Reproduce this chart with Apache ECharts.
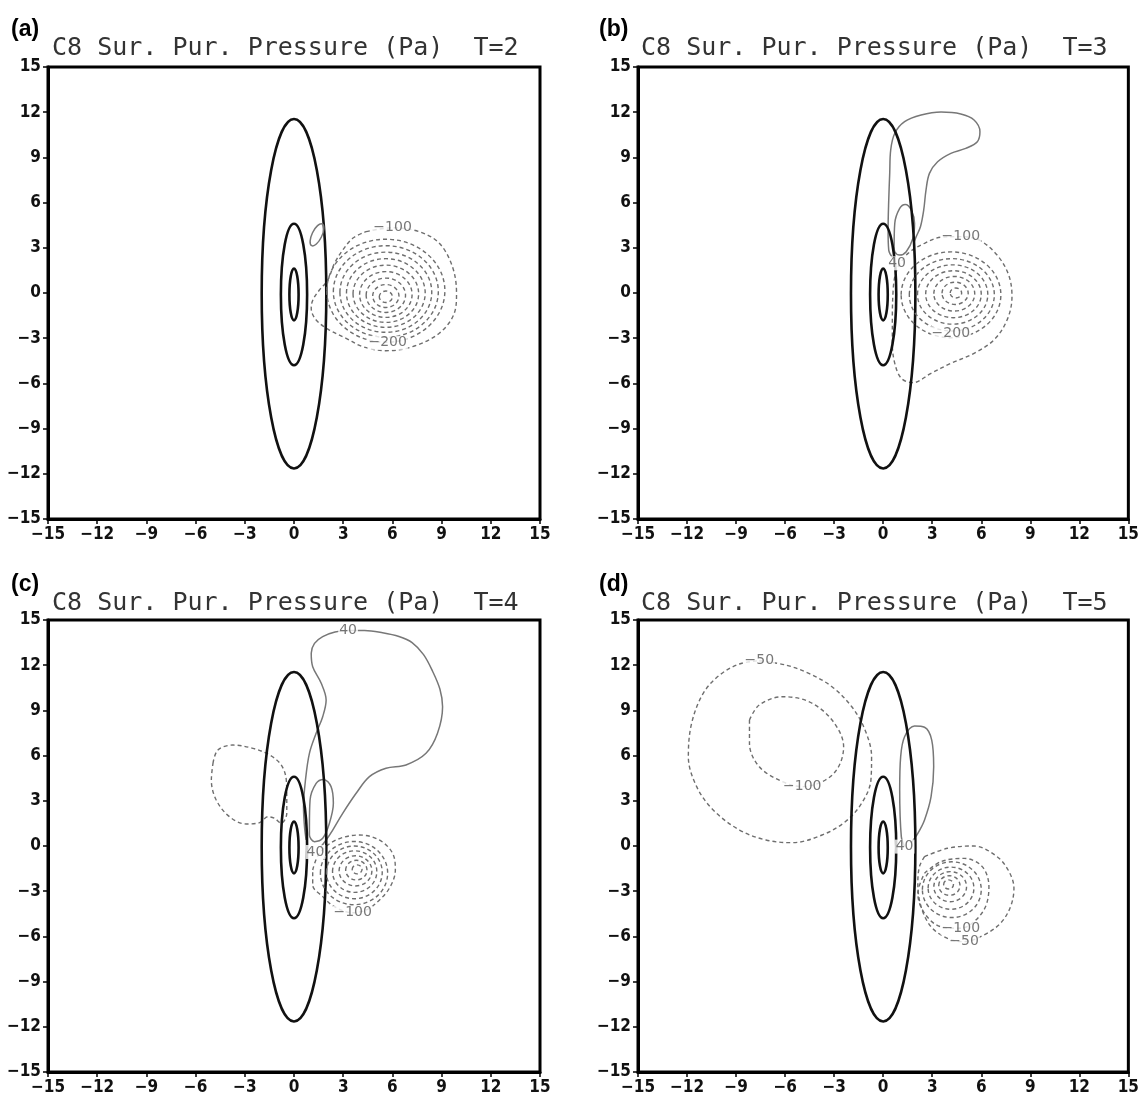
<!DOCTYPE html>
<html><head><meta charset="utf-8">
<script src="https://cdn.jsdelivr.net/npm/echarts@6/dist/echarts.min.js"></script>
<style>html,body{margin:0;padding:0;background:#fff}#c{width:1142px;height:1101px}</style>
</head><body><div id="c"></div>
<script>
const TICKS = [-15,-12,-9,-6,-3,0,3,6,9,12,15];
const TAGS = ['(a)','(b)','(c)','(d)'];
const TITLES = ['C8 Sur. Pur. Pressure (Pa)  T=2','C8 Sur. Pur. Pressure (Pa)  T=3','C8 Sur. Pur. Pressure (Pa)  T=4','C8 Sur. Pur. Pressure (Pa)  T=5'];

// thick black vortex contours: [cx, cy, rx, ry]
const vortexEllipses = [[0,-0.05,1.97,11.6],[0,-0.1,0.8,4.7],[0,-0.1,0.28,1.72]];

// dashed concentric negative rings: [cx, cy, rx, ry]
const ringsA = [[5.6,-0.25,0.4,0.38],[5.6,-0.2,0.8,0.76],[5.6,-0.15,1.2,1.14],[5.6,-0.1,1.6,1.52],[5.6,-0.05,2.0,1.9],[5.6,0,2.4,2.28],[5.6,0.05,2.8,2.66],[5.6,0.1,3.2,3.04],[5.6,0.15,3.6,3.42]];
const ringsB = [[4.45,0,0.35,0.33],[4.4,-0.02,0.8,0.74],[4.35,-0.05,1.25,1.15],[4.3,-0.08,1.7,1.56],[4.25,-0.1,2.15,1.97],[4.2,-0.12,2.6,2.4],[4.15,-0.12,3.05,2.85]];
const ringsC = [[3.85,-1.55,0.3,0.3],[3.8,-1.6,0.65,0.65],[3.75,-1.65,1.0,1.0],[3.7,-1.7,1.35,1.38],[3.68,-1.75,1.7,1.75],[3.66,-1.8,2.05,2.1]];
const ringsD = [[4.0,-2.55,0.3,0.3],[4.05,-2.62,0.65,0.65],[4.1,-2.7,1.0,1.0],[4.15,-2.8,1.4,1.4],[4.2,-2.9,1.8,1.85]];

// small tilted positive loop in (a): [cx, cy, rx, ry, tilt in radians]
const A_posLoop = [[1.4,3.86,0.3,0.8,-0.45]];

// irregular contours
const A_neg = [[4.39,4.07],[6.01,4.33],[7.64,4.07],[8.86,3.30],[9.66,1.75],[9.91,-0.02],[9.77,-1.35],[8.86,-2.67],[7.23,-3.56],[5.61,-3.83],[4.19,-3.56],[3.18,-3.01],[2.16,-2.46],[1.35,-1.79],[1.05,-1.02],[1.15,-0.46],[1.55,0.20],[2.06,0.86],[2.47,1.97],[2.97,2.85],[3.58,3.63],[4.39,4.07]];
const B_pos1 = [[0.61,2.30],[0.34,2.85],[0.30,4.18],[0.34,6.17],[0.40,7.94],[0.46,9.49],[0.71,10.6],[1.31,11.37],[2.32,11.81],[3.54,12.01],[4.75,11.88],[5.56,11.48],[5.92,10.70],[5.76,10.04],[5.05,9.60],[4.14,9.27],[3.33,8.71],[2.83,7.94],[2.62,6.83],[2.48,5.51],[2.28,4.40],[2.02,3.74],[1.9,3.4]];
const B_pos2 = [[0.67,3.07],[0.71,4.63],[1.01,5.62],[1.35,5.88],[1.72,5.51],[1.92,4.63],[1.82,3.63],[1.41,2.74],[1.01,2.52],[0.71,2.74],[0.67,3.07]];
const B_neg = [[0.91,1.75],[1.52,2.63],[2.53,3.30],[3.53,3.70],[4.75,3.74],[5.86,3.52],[6.97,2.52],[7.68,1.19],[7.88,-0.24],[7.58,-1.79],[6.77,-3.12],[5.56,-4.00],[4.14,-4.67],[2.93,-5.33],[1.82,-5.95],[1.11,-5.66],[0.71,-4.67],[0.56,-3.34],[0.56,-1.57],[0.61,0.20],[0.71,1.08],[0.91,1.75]];
const C_pos1 = [[0.74,0.40],[0.64,1.28],[0.58,2.61],[0.70,4.38],[0.94,6.15],[1.35,7.48],[1.75,8.58],[1.96,9.69],[1.66,10.8],[1.14,11.9],[1.05,12.79],[1.25,13.45],[1.75,13.9],[2.5,14.2],[3.3,14.3],[4.3,14.3],[5.4,14.15],[6.4,13.9],[7.2,13.5],[7.9,12.7],[8.45,11.6],[8.9,10.4],[9.06,9.24],[8.75,7.48],[8.05,6.15],[6.83,5.38],[5.61,5.16],[4.60,4.60],[3.79,3.50],[2.97,2.17],[2.36,1.06],[1.96,0.40],[1.6,-0.1]];
const C_pos2 = [[0.94,1.28],[0.98,3.05],[1.35,4.16],[1.80,4.42],[2.26,3.94],[2.40,2.83],[2.16,1.51],[1.75,0.51],[1.25,0.29],[0.94,0.73],[0.94,1.28]];
const C_neg1 = [[-4.94,5.49],[-4.64,6.37],[-3.72,6.70],[-2.51,6.48],[-1.49,6.04],[-0.78,5.38],[-0.47,4.38],[-0.44,3.27],[-0.44,2.17],[-0.78,1.51],[-1.19,1.84],[-1.59,1.94],[-2.10,1.55],[-2.91,1.46],[-3.93,1.94],[-4.74,3.05],[-5.04,4.38],[-4.94,5.49]];
const C_neg2 = [[1.14,-1.59],[1.55,-0.48],[2.57,0.40],[3.99,0.73],[5.20,0.40],[6.01,-0.48],[6.18,-1.59],[5.81,-2.81],[5.00,-3.80],[4.39,-4.25],[3.58,-4.43],[2.47,-4.03],[1.75,-3.36],[1.14,-2.59],[1.14,-1.59]];
const D_pos = [[1.31,-0.04],[1.11,0.62],[1.01,3.72],[1.07,5.93],[1.31,7.25],[1.92,7.96],[2.53,7.88],[2.97,7.03],[3.09,5.26],[2.93,3.27],[2.53,1.73],[2.12,0.84],[1.7,0.2]];
const D_neg1 = [[-7.58,12.30],[-5.96,12.01],[-4.55,11.46],[-3.13,10.57],[-1.92,9.24],[-1.11,7.70],[-0.71,5.93],[-0.75,4.38],[-1.32,2.83],[-2.32,1.61],[-3.74,0.73],[-5.56,0.22],[-7.17,0.40],[-8.79,1.06],[-10.40,2.39],[-11.41,3.94],[-11.92,5.93],[-11.72,8.14],[-11.01,10.13],[-10.0,11.35],[-8.79,12.08],[-7.58,12.30]];
const D_neg2 = [[-8.18,8.36],[-7.58,9.36],[-6.16,9.91],[-4.55,9.58],[-3.13,8.36],[-2.42,6.59],[-2.73,5.26],[-3.53,4.38],[-4.95,3.94],[-6.16,4.27],[-7.58,5.26],[-8.18,6.81],[-8.18,8.36]];
const D_neg3 = [[2.53,-0.71],[3.94,-0.15],[5.56,0],[6.97,-0.71],[7.7,-1.7],[8.0,-2.8],[7.8,-4.0],[7.2,-5.1],[6.16,-5.91],[4.95,-6.35],[3.94,-6.13],[2.93,-5.36],[2.32,-4.03],[2.12,-2.48],[2.22,-1.37],[2.53,-0.71]];
const D_neg4 = [[2.53,-1.81],[3.53,-1.04],[4.95,-0.82],[6.06,-1.37],[6.47,-2.70],[6.26,-4.03],[5.56,-5.02],[4.75,-5.46],[3.53,-5.36],[2.53,-4.47],[2.12,-3.14],[2.53,-1.81]];

// contour labels: [x, y, text]
const labelsA = [[6.01,4.33,'−100'],[5.71,-3.30,'−200']];
const labelsB = [[4.75,3.74,'−100'],[4.14,-2.67,'−200'],[0.85,1.97,'40']];
const labelsC = [[3.3,14.3,'40'],[1.31,-0.40,'40'],[3.58,-4.43,'−100']];
const labelsD = [[-7.58,12.30,'−50'],[-4.95,3.94,'−100'],[1.31,-0.04,'40'],[4.75,-5.46,'−100'],[4.95,-6.35,'−50']];

const panels = [
  {rings: ringsA, loops: A_posLoop, pos: [], neg: [A_neg], labels: labelsA},
  {rings: ringsB, loops: [], pos: [B_pos1, B_pos2], neg: [B_neg], labels: labelsB},
  {rings: ringsC, loops: [], pos: [C_pos1, C_pos2], neg: [C_neg1, C_neg2], labels: labelsC},
  {rings: ringsD, loops: [], pos: [D_pos], neg: [D_neg1, D_neg2, D_neg3, D_neg4], labels: labelsD}
];
const gridBoxes = [
  {left: 48, top: 67, width: 492, height: 452},
  {left: 638, top: 67, width: 494, height: 452},
  {left: 48, top: 620, width: 492, height: 452},
  {left: 638, top: 620, width: 494, height: 452}
];
const tagPos = [[6,13],[594,13],[6,568],[594,568]];
const titlePos = [[47,31],[636,31],[47,586],[636,586]];

const chart = echarts.init(document.getElementById('c'), null, {renderer: 'canvas'});
const fmt = v => (v < 0 ? '\u2212' + Math.abs(v) : String(v));
const DASH = [4, 3];
const GREY = '#6e6e6e';

function ellipseSeries(i, data, stroke, width, dash) {
  return {
    type: 'custom', xAxisIndex: i, yAxisIndex: i, data: data, silent: true, z: 3,
    renderItem: function (params, api) {
      const c = api.coord([api.value(0), api.value(1)]);
      const s = api.size([api.value(2), api.value(3)]);
      const rot = api.value(4);
      return {type: 'ellipse', x: c[0], y: c[1], rotation: isNaN(rot) ? 0 : rot,
        shape: {cx: 0, cy: 0, rx: s[0], ry: s[1]},
        style: {fill: null, stroke: stroke, lineWidth: width, lineDash: dash || null}};
    }
  };
}

const grid = [], xAxis = [], yAxis = [], series = [], title = [];
panels.forEach((p, i) => {
  grid.push(Object.assign({show: true, borderColor: '#000', borderWidth: 3, backgroundColor: '#fff'}, gridBoxes[i]));
  const axisCommon = {
    type: 'value', min: TICKS[0], max: TICKS[TICKS.length - 1], interval: 3,
    gridIndex: i, splitLine: {show: false},
    axisLine: {show: true, onZero: false, lineStyle: {color: '#000', width: 3}},
    axisTick: {show: true, length: 5, lineStyle: {color: '#000', width: 1.5}},
    axisLabel: {formatter: fmt, color: '#111', fontSize: 17, fontWeight: 'bold',
      fontFamily: "'Liberation Sans Narrow', 'DejaVu Sans Condensed', 'Liberation Sans'", margin: 7}
  };
  xAxis.push(Object.assign({}, axisCommon));
  yAxis.push(Object.assign({}, axisCommon));
  title.push({text: TAGS[i], left: tagPos[i][0], top: tagPos[i][1],
    textStyle: {fontFamily: 'Liberation Sans', fontWeight: 'bold', fontSize: 23, color: '#000'}});
  title.push({text: TITLES[i], left: titlePos[i][0], top: titlePos[i][1],
    textStyle: {fontFamily: 'DejaVu Sans Mono', fontWeight: 'normal', fontSize: 25, color: '#333'}});

  series.push(ellipseSeries(i, vortexEllipses, '#111', 2.6));
  series.push(ellipseSeries(i, p.rings, GREY, 1.4, DASH));
  if (p.loops.length) series.push(ellipseSeries(i, p.loops, '#777', 1.5));
  p.pos.forEach(line => series.push({
    type: 'line', xAxisIndex: i, yAxisIndex: i, data: line, smooth: 0.35, symbol: 'none', silent: true, z: 2,
    lineStyle: {color: '#777', width: 1.5}
  }));
  p.neg.forEach(line => series.push({
    type: 'line', xAxisIndex: i, yAxisIndex: i, data: line, smooth: 0.35, symbol: 'none', silent: true, z: 2,
    lineStyle: {color: GREY, width: 1.4, type: DASH}
  }));
  series.push({
    type: 'scatter', xAxisIndex: i, yAxisIndex: i, symbolSize: 1, silent: true, z: 6,
    itemStyle: {color: 'rgba(0,0,0,0)'},
    data: p.labels.map(l => ({value: [l[0], l[1]], name: l[2]})),
    label: {show: true, position: 'inside', formatter: '{b}', color: '#555', fontSize: 14,
      fontFamily: 'DejaVu Sans', backgroundColor: '#fff', padding: [0, 1]}
  });
});

chart.setOption({animation: false, backgroundColor: '#fff', title, grid, xAxis, yAxis, series});
</script></body></html>
